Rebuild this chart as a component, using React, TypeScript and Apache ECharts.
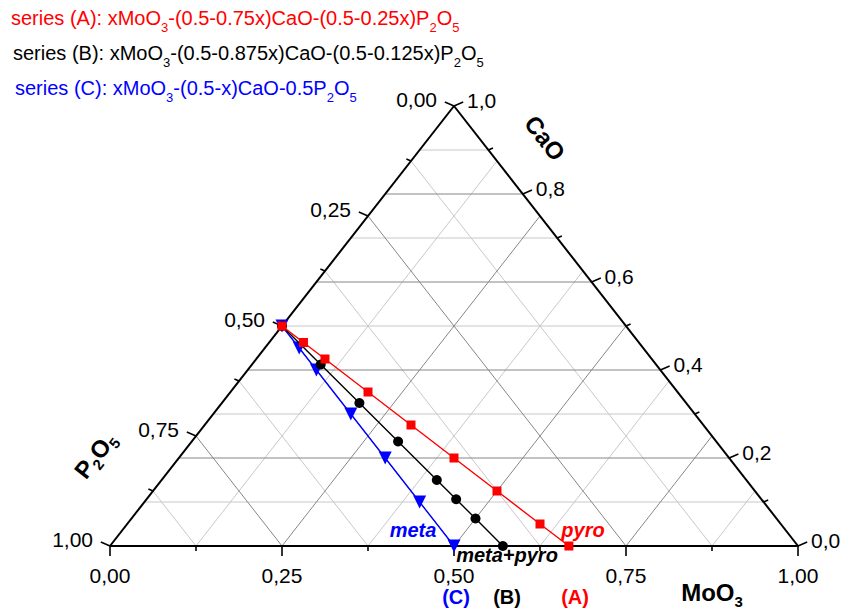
import React, { useEffect, useRef } from 'react';
import * as echarts from 'echarts';

const FONT = '"Liberation Sans", Arial, Helvetica, sans-serif';

// Glass compositions (mole fractions): MoO3 and CaO, P2O5 is the remainder
const moo3A = [0, 0.05, 0.1, 0.2, 0.3, 0.4, 0.5, 0.6, 0.667];
const caoA = [0.5, 0.4625, 0.425, 0.35, 0.275, 0.2, 0.125, 0.05, 0];
const moo3B = [0, 0.1, 0.2, 0.3, 0.4, 0.45, 0.5, 0.571];
const caoB = [0.5, 0.4125, 0.325, 0.2375, 0.15, 0.10625, 0.0625, 0];
const moo3C = [0, 0.05, 0.1, 0.2, 0.3, 0.4, 0.5];
const caoC = [0.5, 0.45, 0.4, 0.3, 0.2, 0.1, 0];

// Axis ticks
const moo3Major = [0, 0.25, 0.5, 0.75, 1];
const moo3Minor = [0.125, 0.375, 0.625, 0.875];
const moo3Labels = ['0,00', '0,25', '0,50', '0,75', '1,00'];
const p2o5Major = [0, 0.25, 0.5, 0.75, 1];
const p2o5Minor = [0.125, 0.375, 0.625, 0.875];
const p2o5Labels = ['0,00', '0,25', '0,50', '0,75', '1,00'];
const caoMajor = [0, 0.2, 0.4, 0.6, 0.8, 1];
const caoMinor = [0.1, 0.3, 0.5, 0.7, 0.9];
const caoLabels = ['0,0', '0,2', '0,4', '0,6', '0,8', '1,0'];

// ternary (MoO3, CaO) -> plane coordinates of the triangle
const toXY = (m: number, c: number): [number, number] => [m + c / 2, c];

const pts = (mo: number[], ca: number[]) => mo.map((m, i) => toXY(m, ca[i]));

type Seg = [number, number, number, number, number];

function buildSegments(): Seg[] {
  const segs: Seg[] = [];
  const isMajorCao = (v: number) => caoMajor.some((t) => Math.abs(t - v) < 1e-9);
  const isMajorQ = (v: number) => moo3Major.some((t) => Math.abs(t - v) < 1e-9);
  // CaO grid (horizontal)
  [...caoMinor, ...caoMajor.filter((v) => v > 0 && v < 1)].forEach((c) => {
    const a = toXY(0, c);
    const b = toXY(1 - c, c);
    segs.push([a[0], a[1], b[0], b[1], isMajorCao(c) ? 1 : 0]);
  });
  // MoO3 grid
  [...moo3Minor, ...moo3Major.filter((v) => v > 0 && v < 1)].forEach((m) => {
    const a = toXY(m, 0);
    const b = toXY(m, 1 - m);
    segs.push([a[0], a[1], b[0], b[1], isMajorQ(m) ? 1 : 0]);
  });
  // P2O5 grid
  [...p2o5Minor, ...p2o5Major.filter((v) => v > 0 && v < 1)].forEach((p) => {
    const a = toXY(1 - p, 0);
    const b = toXY(0, 1 - p);
    segs.push([a[0], a[1], b[0], b[1], isMajorQ(p) ? 1 : 0]);
  });
  // triangle outline
  const v1 = toXY(0, 0);
  const v2 = toXY(1, 0);
  const v3 = toXY(0, 1);
  segs.push([v1[0], v1[1], v2[0], v2[1], 2]);
  segs.push([v2[0], v2[1], v3[0], v3[1], 2]);
  segs.push([v3[0], v3[1], v1[0], v1[1], 2]);
  return segs;
}

// tick directions in pixels: bottom, left, right
const DIRS: [number, number][] = [
  [0, 1],
  [-0.92, -0.39],
  [0.92, -0.39],
];

type Tick = [number, number, number, number];

function buildTicks(): Tick[] {
  const t: Tick[] = [];
  moo3Major.forEach((m) => t.push([...toXY(m, 0), 0, 10] as Tick));
  moo3Minor.forEach((m) => t.push([...toXY(m, 0), 0, 5] as Tick));
  p2o5Major.forEach((p) => t.push([...toXY(0, 1 - p), 1, 10] as Tick));
  p2o5Minor.forEach((p) => t.push([...toXY(0, 1 - p), 1, 5] as Tick));
  caoMajor.forEach((c) => t.push([...toXY(1 - c, c), 2, 10] as Tick));
  caoMinor.forEach((c) => t.push([...toXY(1 - c, c), 2, 5] as Tick));
  return t;
}

type Lab = { pos: [number, number]; side: number; text: string };

function buildLabels(): Lab[] {
  const l: Lab[] = [];
  moo3Major.forEach((m, i) => l.push({ pos: toXY(m, 0), side: 0, text: moo3Labels[i] }));
  p2o5Major.forEach((p, i) => l.push({ pos: toXY(0, 1 - p), side: 1, text: p2o5Labels[i] }));
  caoMajor.forEach((c, i) => l.push({ pos: toXY(1 - c, c), side: 2, text: caoLabels[i] }));
  return l;
}

const LABEL_OFF: { dx: number; dy: number; align: string }[] = [
  { dx: 0, dy: 29, align: 'center' },
  { dx: -17, dy: -7, align: 'right' },
  { dx: 13, dy: -6, align: 'left' },
];

const sub = (size: number, shift: number, extra: object = {}) => ({
  fontSize: size,
  fontFamily: FONT,
  padding: [shift * 2, 0, 0, 0],
  ...extra,
});

export default function App() {
  const ref = useRef<HTMLDivElement>(null);

  useEffect(() => {
    document.body.style.margin = '0';
    if (!ref.current) return;
    const chart = echarts.init(ref.current, undefined, { renderer: 'svg' });

    const segments = buildSegments();
    const ticks = buildTicks();
    const labels = buildLabels();

    const legendLine = (
      x: number,
      y: number,
      color: string,
      text: string
    ) => ({
      type: 'text',
      x,
      y,
      style: {
        text,
        fill: color,
        font: `20px ${FONT}`,
        verticalAlign: 'middle',
        align: 'left',
        rich: {
          t: { fontSize: 20, fontFamily: FONT, fill: color },
          s: sub(13, 9, { fill: color }),
        },
      },
    });

    const note = (
      x: number,
      y: number,
      color: string,
      text: string,
      italic: boolean
    ) => ({
      type: 'text',
      x,
      y,
      style: {
        text,
        fill: color,
        font: `${italic ? 'italic ' : ''}bold 20px ${FONT}`,
        align: 'center',
        verticalAlign: 'middle',
      },
    });

    const option: any = {
      animation: false,
      grid: { left: 110, right: 48, top: 106, bottom: 66, containLabel: false },
      xAxis: { type: 'value', min: 0, max: 1, show: false },
      yAxis: { type: 'value', min: 0, max: 1, show: false },
      series: [
        {
          type: 'custom',
          coordinateSystem: 'cartesian2d',
          silent: true,
          z: 1,
          data: segments,
          encode: { x: [0, 2], y: [1, 3] },
          renderItem: (_p: any, api: any) => {
            const a = api.coord([api.value(0), api.value(1)]);
            const b = api.coord([api.value(2), api.value(3)]);
            const kind = api.value(4);
            const stroke = kind === 2 ? '#000' : kind === 1 ? '#868686' : '#c8c8c8';
            return {
              type: 'line',
              shape: { x1: a[0], y1: a[1], x2: b[0], y2: b[1] },
              style: { stroke, lineWidth: kind === 2 ? 2 : 1 },
              z2: kind === 2 ? 10 : kind,
            };
          },
        },
        {
          type: 'custom',
          coordinateSystem: 'cartesian2d',
          silent: true,
          z: 2,
          data: ticks,
          encode: { x: 0, y: 1 },
          renderItem: (_p: any, api: any) => {
            const a = api.coord([api.value(0), api.value(1)]);
            const d = DIRS[api.value(2)];
            const len = api.value(3);
            return {
              type: 'line',
              shape: { x1: a[0], y1: a[1], x2: a[0] + d[0] * len, y2: a[1] + d[1] * len },
              style: { stroke: '#000', lineWidth: 1.6 },
            };
          },
        },
        {
          type: 'custom',
          coordinateSystem: 'cartesian2d',
          silent: true,
          z: 2,
          data: labels.map((l) => [l.pos[0], l.pos[1], l.side]),
          encode: { x: 0, y: 1 },
          renderItem: (p: any, api: any) => {
            const a = api.coord([api.value(0), api.value(1)]);
            const off = LABEL_OFF[api.value(2)];
            return {
              type: 'text',
              x: a[0] + off.dx,
              y: a[1] + off.dy,
              style: {
                text: labels[p.dataIndex].text,
                fill: '#000',
                font: `21px ${FONT}`,
                align: off.align,
                verticalAlign: 'middle',
              },
            };
          },
        },
        {
          name: 'C',
          type: 'line',
          data: pts(moo3C, caoC),
          clip: false,
          z: 3,
          symbol: 'triangle',
          symbolRotate: 180,
          symbolSize: 13,
          lineStyle: { color: '#0000ff', width: 1.4 },
          itemStyle: { color: '#0000ff' },
        },
        {
          name: 'B',
          type: 'line',
          data: pts(moo3B, caoB),
          clip: false,
          z: 4,
          symbol: 'circle',
          symbolSize: 10,
          lineStyle: { color: '#000000', width: 1.4 },
          itemStyle: { color: '#000000' },
        },
        {
          name: 'A',
          type: 'line',
          data: pts(moo3A, caoA),
          clip: false,
          z: 5,
          symbol: 'rect',
          symbolSize: 9,
          lineStyle: { color: '#ff0000', width: 1.4 },
          itemStyle: { color: '#ff0000' },
        },
      ],
      graphic: [
        legendLine(11, 18, '#ff0000', '{t|series (A): xMoO}{s|3}{t|-(0.5-0.75x)CaO-(0.5-0.25x)P}{s|2}{t|O}{s|5}'),
        legendLine(13, 53, '#000000', '{t|series (B): xMoO}{s|3}{t|-(0.5-0.875x)CaO-(0.5-0.125x)P}{s|2}{t|O}{s|5}'),
        legendLine(15, 88, '#0000ff', '{t|series (C): xMoO}{s|3}{t|-(0.5-x)CaO-0.5P}{s|2}{t|O}{s|5}'),
        {
          type: 'text',
          x: 545,
          y: 138,
          rotation: (-52 * Math.PI) / 180,
          style: {
            text: 'CaO',
            fill: '#000',
            font: `bold 24px ${FONT}`,
            align: 'center',
            verticalAlign: 'middle',
          },
        },
        {
          type: 'text',
          x: 95,
          y: 455,
          rotation: (52 * Math.PI) / 180,
          style: {
            text: '{b|P}{s|2}{b|O}{s|5}',
            fill: '#000',
            font: `bold 24px ${FONT}`,
            align: 'center',
            verticalAlign: 'middle',
            rich: {
              b: { fontSize: 24, fontWeight: 'bold', fontFamily: FONT },
              s: sub(15, 8, { fontWeight: 'bold' }),
            },
          },
        },
        {
          type: 'text',
          x: 712,
          y: 592,
          style: {
            text: '{b|MoO}{s|3}',
            fill: '#000',
            font: `bold 24px ${FONT}`,
            align: 'center',
            verticalAlign: 'middle',
            rich: {
              b: { fontSize: 24, fontWeight: 'bold', fontFamily: FONT },
              s: sub(15, 9, { fontWeight: 'bold' }),
            },
          },
        },
        note(413, 530, '#0000ff', 'meta', true),
        note(583, 530, '#ff0000', 'pyro', true),
        note(507, 555, '#000000', 'meta+pyro', true),
        note(456, 597, '#0000ff', '(C)', false),
        note(507, 597, '#000000', '(B)', false),
        note(575, 597, '#ff0000', '(A)', false),
      ],
    };

    chart.setOption(option);
    return () => chart.dispose();
  }, []);

  return <div ref={ref} style={{ width: 846, height: 612 }} />;
}
